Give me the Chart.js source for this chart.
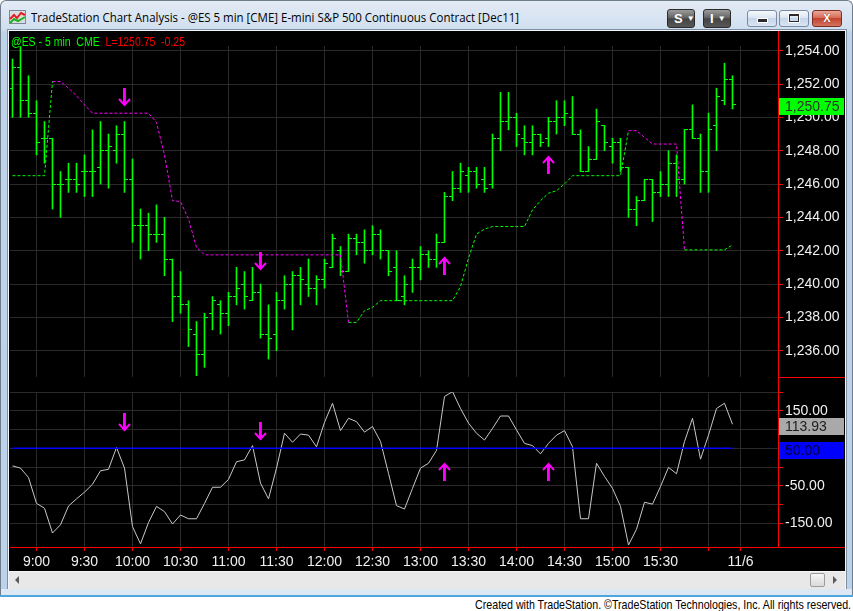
<!DOCTYPE html>
<html>
<head>
<meta charset="utf-8">
<title>TradeStation Chart Analysis - @ES 5 min</title>
<script src="https://cdn.jsdelivr.net/npm/chart.js@4.4.1/dist/chart.umd.min.js"></script>
<style>
  body { margin: 0; width: 853px; height: 611px; position: relative; overflow: hidden; background: #fff;
         font-family: "Liberation Sans", Arial, sans-serif; }
  .abs { position: absolute; }
  #win { left: 0; top: 0; width: 853px; height: 597px; box-sizing: border-box;
         border: 1px solid #6f7c8c; border-bottom: 0; border-radius: 6px 6px 0 0;
         background: linear-gradient(#e3ebf5, #d0dfef 28px, #bfd4eb 31px, #bcd2ea); }
  #inner { left: 7px; top: 29px; width: 840px; height: 562px; box-sizing: border-box; border: 1px solid #7f8ea1; background: #f2f6fb; }
  #bottomFrame { left: 1px; top: 589px; width: 851px; height: 6px; background: #dde8f4; }
  #frameEdge { left: 0; top: 595px; width: 853px; height: 2px; background: #4fa6de; }
  #plotBg { left: 9px; top: 31px; width: 836px; height: 540px; background: #000; }
  #title { left: 31px; top: 10px; font: 12px "Open Sans", "Noto Sans", sans-serif; line-height: 16px; color: #000; white-space: nowrap; }
  .tbtn { top: 9px; width: 28px; height: 19px; box-sizing: border-box; border: 1px solid #2b2b2b; border-radius: 3px;
          background: linear-gradient(#9c9c9c, #626262 46%, #444 52%, #585858); color: #fff;
          font: bold 13px "Liberation Sans", Arial, sans-serif; line-height: 17px; padding-left: 6px; }
  .tbtn span { font-size: 8px; margin-left: 4px; vertical-align: 2px; }
  .wbtn { top: 10px; height: 17px; width: 30px; box-sizing: border-box; border: 1px solid #7a8ca3; border-radius: 3px;
          background: linear-gradient(#f6f9fc, #dbe6f2 45%, #c6d6ea 50%, #d9e5f3); }
  #closeBtn { border-color: #7c2e24; background: linear-gradient(#eaa797, #d66d58 45%, #c1442f 50%, #d3735f);
              color: #fff; font: bold 11px "Liberation Sans", Arial, sans-serif; text-align: center; line-height: 15px;
              text-shadow: 0 0 1px #5a1a10; }
  canvas { position: absolute; }
  #legend { left: 11px; top: 35px; font: 13px "Liberation Sans", Arial, sans-serif; line-height: 13px; white-space: pre; }
  .red { background: #ff0000; }
  #scroll { left: 9px; top: 571px; width: 836px; height: 18px; box-sizing: border-box; background: #e8e8e8; border-top: 1px solid #f6f6f6; }
  #thumb { left: 810px; top: 573px; width: 15px; height: 14px; box-sizing: border-box; border: 1px solid #9c9c9c; border-radius: 2px;
           background: linear-gradient(#f7f7f7, #dadada); }
  #foot { right: 2px; top: 598px; font: 13px "Liberation Sans", Arial, sans-serif; line-height: 13px; white-space: nowrap; color: #000; }
</style>
</head>
<body>
<div id="win" class="abs"></div>
<div id="inner" class="abs"></div>
<div id="bottomFrame" class="abs"></div>
<div id="frameEdge" class="abs"></div>
<svg class="abs" style="left:9px;top:10px" width="17" height="14">
  <rect x="0.5" y="0.5" width="16" height="13" fill="#d8dde4" stroke="#7d8896"/>
  <polyline points="1,9 5,5 8,8 12,3 16,5" stroke="#e02020" stroke-width="2" fill="none"/>
  <polyline points="1,13 5,9 9,11 16,7" stroke="#20b020" stroke-width="2" fill="none"/>
</svg>
<div id="title" class="abs">TradeStation Chart Analysis - @ES 5 min [CME] E-mini S&amp;P 500 Continuous Contract [Dec11]</div>
<div class="abs tbtn" style="left:667px">S<span>&#9660;</span></div>
<div class="abs tbtn" style="left:703px">I<span>&#9660;</span></div>
<div class="abs wbtn" style="left:747px"><div class="abs" style="left:10px;top:8px;width:9px;height:3px;background:#2b2b2b;box-shadow:0 0 0 1px #fff"></div></div>
<div class="abs wbtn" style="left:779px"><div class="abs" style="left:9px;top:3px;width:10px;height:8px;box-sizing:border-box;border:1px solid #2b2b2b;border-top-width:2px;box-shadow:0 0 0 1px #fff"></div></div>
<div id="closeBtn" class="abs wbtn" style="left:812px">X</div>

<div id="plotBg" class="abs"></div>
<canvas id="priceChart" width="836" height="346" style="left:9px;top:31px"></canvas>
<canvas id="cciChart" width="836" height="194" style="left:9px;top:377px"></canvas>
<div id="legend" class="abs"><span style="color:#00ff00">@ES - 5 min  CME</span>  <span id="lastTxt" style="color:#ff0000"></span></div>
<div class="abs red" style="left:778px;top:31px;width:1px;height:517px"></div>
<div class="abs red" style="left:778px;top:377px;width:67px;height:1px"></div>
<div class="abs red" style="left:778px;top:547px;width:67px;height:1px"></div>

<div id="scroll" class="abs"></div>
<div class="abs" style="left:15px;top:576px;width:0;height:0;border-top:4px solid transparent;border-bottom:4px solid transparent;border-right:4px solid #5a5a5a"></div>
<div id="thumb" class="abs"></div>
<div class="abs" style="left:833px;top:576px;width:0;height:0;border-top:4px solid transparent;border-bottom:4px solid transparent;border-left:4px solid #5a5a5a"></div>
<div id="foot" class="abs">Created with TradeStation. &copy;TradeStation Technologies, Inc. All rights reserved.</div>

<script>
// 5 minute bars, index 0 = 8:45 ... index 90 = 16:15
const barOpen = [
  1251.75, 1253.0, 1251.0, 1250.25, 1248.75, 1248.75, 1246.0, 1246.25, 1246.25, 1246.75,
  1246.75, 1247.0, 1248.0, 1248.0, 1249.0, 1246.25, 1243.5, 1243.5, 1243.0, 1243.0,
  1241.5, 1239.25, 1238.75, 1237.0, 1235.75, 1238.25, 1238.75, 1238.25, 1239.25, 1240.0,
  1239.0, 1239.5, 1237.0, 1237.0, 1239.0, 1240.0, 1240.5, 1240.0, 1239.75, 1240.25,
  1241.0, 1242.0, 1240.75, 1242.75, 1242.5, 1242.0, 1243.0, 1242.0, 1241.0, 1239.25,
  1241.0, 1241.0, 1241.75, 1241.5, 1242.5, 1245.25, 1245.75, 1246.5, 1246.75, 1246.25,
  1246.0, 1248.75, 1249.75, 1250.0, 1248.75, 1248.5, 1249.0, 1248.75, 1249.75, 1250.0,
  1250.0, 1249.0, 1246.75, 1247.5, 1249.5, 1248.25, 1248.5, 1247.0, 1244.5, 1245.0,
  1246.25, 1245.5, 1246.0, 1247.25, 1246.25, 1249.25, 1248.75, 1246.75, 1249.5, 1251.0,
  1252.25
];
const barHigh = [
  1253.5, 1254.25, 1252.5, 1251.0, 1249.75, 1248.75, 1246.75, 1247.25, 1247.25, 1247.75,
  1249.25, 1249.75, 1249.0, 1249.5, 1249.75, 1247.5, 1244.5, 1244.25, 1244.75, 1244.0,
  1241.5, 1240.75, 1239.0, 1237.75, 1238.25, 1239.25, 1239.0, 1239.5, 1241.0, 1240.75,
  1241.0, 1240.0, 1238.75, 1239.5, 1240.5, 1240.75, 1241.0, 1241.5, 1240.5, 1241.5,
  1243.0, 1242.25, 1243.0, 1243.0, 1243.25, 1243.5, 1243.25, 1242.0, 1242.0, 1240.5,
  1241.5, 1242.25, 1242.0, 1243.0, 1245.5, 1246.75, 1247.25, 1247.0, 1247.0, 1247.0,
  1249.0, 1251.5, 1251.5, 1250.25, 1249.5, 1249.5, 1249.0, 1250.0, 1251.0, 1251.0,
  1251.25, 1249.25, 1248.25, 1250.5, 1249.5, 1248.75, 1248.75, 1247.0, 1245.25, 1246.25,
  1246.25, 1246.75, 1248.0, 1247.75, 1249.25, 1250.75, 1249.0, 1250.25, 1251.75, 1253.25,
  1252.5
];
const barLow = [
  1250.0, 1250.0, 1250.0, 1247.75, 1247.25, 1244.5, 1244.0, 1245.5, 1245.5, 1245.25,
  1245.25, 1246.0, 1245.75, 1247.25, 1245.5, 1242.5, 1241.5, 1242.0, 1242.5, 1240.5,
  1237.75, 1238.25, 1236.25, 1234.5, 1235.0, 1237.25, 1237.0, 1237.5, 1238.75, 1238.5,
  1239.0, 1236.75, 1235.5, 1236.0, 1238.5, 1237.25, 1238.75, 1239.25, 1238.75, 1239.75,
  1241.0, 1240.5, 1240.75, 1241.75, 1241.25, 1241.75, 1241.5, 1240.5, 1239.0, 1238.75,
  1239.5, 1240.25, 1241.0, 1241.0, 1242.5, 1245.0, 1245.5, 1245.5, 1245.75, 1245.5,
  1245.75, 1248.0, 1249.25, 1248.25, 1247.75, 1247.75, 1248.25, 1248.25, 1249.0, 1249.5,
  1249.0, 1246.75, 1246.75, 1247.5, 1248.0, 1247.25, 1246.75, 1244.0, 1243.5, 1245.0,
  1243.75, 1245.25, 1245.25, 1245.25, 1246.0, 1248.75, 1245.5, 1245.5, 1248.0, 1250.75,
  1250.5
];
const barClose = [
  1253.0, 1251.0, 1250.25, 1248.5, 1248.75, 1246.0, 1246.0, 1246.25, 1246.0, 1246.75,
  1246.75, 1248.0, 1248.25, 1249.0, 1246.25, 1243.5, 1243.5, 1243.0, 1243.0, 1241.5,
  1239.25, 1238.75, 1237.25, 1235.75, 1238.0, 1239.0, 1238.25, 1239.25, 1239.75, 1239.25,
  1239.5, 1237.0, 1236.75, 1239.0, 1240.0, 1240.5, 1240.25, 1239.75, 1240.25, 1241.25,
  1242.75, 1240.75, 1242.75, 1242.5, 1242.0, 1243.0, 1242.0, 1240.75, 1239.0, 1240.0,
  1241.0, 1241.75, 1241.5, 1242.5, 1245.25, 1245.75, 1246.75, 1246.75, 1246.0, 1245.75,
  1248.75, 1249.75, 1250.0, 1249.0, 1248.5, 1249.0, 1248.5, 1249.75, 1250.0, 1250.25,
  1249.0, 1246.75, 1247.5, 1249.75, 1248.5, 1248.5, 1247.0, 1244.5, 1245.0, 1246.25,
  1245.5, 1246.0, 1247.25, 1246.25, 1249.25, 1248.75, 1246.75, 1249.25, 1251.25, 1252.25,
  1250.75
];

// trailing stop, magenta while short, green while long
const stopLevel = [
  1246.5, 1246.5, 1246.5, 1246.5, 1246.5, 1252.15, 1252.15, 1251.75, 1251.3, 1250.75,
  1250.25, 1250.25, 1250.25, 1250.25, 1250.25, 1250.25, 1250.25, 1250.25, 1249.7, 1247.75,
  1245.0, 1244.95, 1243.9, 1242.2, 1241.75, 1241.75, 1241.75, 1241.75, 1241.75, 1241.75,
  1241.75, 1241.75, 1241.75, 1241.75, 1241.75, 1241.75, 1241.75, 1241.75, 1241.75, 1241.75,
  1241.75, 1241.75, 1237.7, 1237.7, 1238.4, 1238.6, 1239.0, 1239.0, 1239.0, 1239.0,
  1239.0, 1239.0, 1239.0, 1239.0, 1239.0, 1239.0, 1239.85, 1241.55, 1243.0, 1243.3,
  1243.45, 1243.45, 1243.45, 1243.45, 1243.45, 1244.45, 1245.0, 1245.45, 1245.6, 1246.0,
  1246.5, 1246.5, 1246.5, 1246.5, 1246.5, 1246.5, 1246.5, 1249.2, 1249.2, 1248.8,
  1248.4, 1248.4, 1248.4, 1248.4, 1242.05, 1242.05, 1242.05, 1242.05, 1242.05, 1242.05,
  1242.35
];
const stopShortRanges = [[5, 41], [77, 83]];

// oscillator
const cciValue = [
  3, -3, -28, -97, -110, -176, -154, -104, -85, -67,
  -46, -10, -6, 52, -3, -159, -205, -148, -105, -119,
  -152, -128, -138, -138, -97, -54, -54, -33, 14, 19,
  57, -43, -85, -3, 90, 66, 88, 85, 54, 119,
  170, 97, 130, 121, 93, 108, 68, -17, -103, -112,
  -57, -3, 10, 44, 188, 201, 156, 117, 90, 72,
  103, 136, 136, 99, 63, 57, 35, 63, 85, 97,
  54, -138, -138, 10, -25, -57, -105, -208, -166, -94,
  -99, -52, -1, -18, 68, 130, 21, 85, 156, 170,
  113.93
];
const cciLevel = 50;

// signal arrows
const signalBar = [14, 31, 54, 67];
const signalDir = ['down', 'down', 'up', 'up'];
const signalPrice = [1251.2, 1241.35, 1241.1, 1247.2];
const signalCci = [119, 95, -11.5, -11.5];

// axes
const timeTickBar = [3, 9, 15, 21, 27, 33, 39, 45, 51, 57, 63, 69, 75, 81, 87, 91];
const timeTickLabel = ['9:00', '9:30', '10:00', '10:30', '11:00', '11:30', '12:00', '12:30', '13:00',
                       '13:30', '14:00', '14:30', '15:00', '15:30', '', '11/6'];
const priceTicks = [1236, 1238, 1240, 1242, 1244, 1246, 1248, 1250, 1252, 1254];
const cciGrid = [-150, -100, -50, 0, 50, 100, 150, 200];
const cciLabeled = [150, -50, -150];

const GREEN = '#00ff00', MAGENTA = '#ff00ff', GRID = '#2a2a2a', AXIS = '#ff0000', LABEL = '#f0f0f0';
const FONT = { family: '"Liberation Sans", Arial, sans-serif', size: 14 };
const X_MIN = -0.3125, X_MAX = 95.6875;

const lastClose = barClose[barClose.length - 1];
const lastCci = cciValue[cciValue.length - 1];
const fmtPrice = v => v.toLocaleString('en-US', { minimumFractionDigits: 2, maximumFractionDigits: 2 });
const isShort = i => stopShortRanges.some(r => i >= r[0] && i <= r[1]);

document.getElementById('lastTxt').textContent = 'L=' + lastClose.toFixed(2) + '  -0.25';

function fitWidth(id, w, origin) {
  const el = document.getElementById(id);
  const r = el.getBoundingClientRect().width;
  el.style.transformOrigin = origin;
  el.style.transform = 'scaleX(' + (w / r) + ')';
}
fitWidth('title', 488, 'left center');
fitWidth('legend', 174, 'left center');
fitWidth('foot', 376, 'right center');

// small images used as point styles
function tickImg(side) {
  const c = document.createElement('canvas');
  c.width = 7; c.height = 1;
  const g = c.getContext('2d');
  g.fillStyle = GREEN;
  g.fillRect(side === 'open' ? 0 : 3, 0, 4, 1);
  return c;
}
function arrowImg(dir) {
  const c = document.createElement('canvas');
  c.width = 13; c.height = 19;
  const g = c.getContext('2d');
  if (dir === 'up') { g.translate(0, 19); g.scale(1, -1); }
  g.fillStyle = MAGENTA;
  g.fillRect(5, 0, 2, 17);
  g.fillStyle = '#a020f0';
  g.fillRect(7, 0, 1, 15);
  g.strokeStyle = MAGENTA;
  g.lineWidth = 2;
  g.beginPath();
  g.moveTo(1, 11); g.lineTo(6.5, 17); g.lineTo(12, 11);
  g.stroke();
  return c;
}
const openTick = tickImg('open'), closeTick = tickImg('close');
const arrows = { up: arrowImg('up'), down: arrowImg('down') };

const crisp = { id: 'crisp', beforeDatasetsDraw(chart) { chart.ctx.imageSmoothingEnabled = false; } };

const valueBoxes = {
  id: 'valueBoxes',
  afterDraw(chart, args, opts) {
    const { ctx, chartArea } = chart;
    const sy = chart.scales.y;
    ctx.save();
    ctx.font = '14px "Liberation Sans", Arial, sans-serif';
    ctx.textBaseline = 'middle';
    ctx.textAlign = 'left';
    opts.items.forEach(b => {
      const top = Math.round(sy.getPixelForValue(b.value) - 6.5);
      ctx.fillStyle = b.bg;
      ctx.fillRect(chartArea.right + 1, top, 65, 17);
      ctx.fillStyle = b.fg;
      ctx.fillText(b.text, chartArea.right + 7, top + 9);
    });
    ctx.restore();
  }
};

function xScale(showLabels) {
  return {
    type: 'linear', min: X_MIN, max: X_MAX, offset: false,
    afterBuildTicks: s => { s.ticks = timeTickBar.map(v => ({ value: v })); },
    afterFit: s => { s.height = showLabels ? 24 : 0; s.paddingLeft = 0; s.paddingRight = 0; },
    grid: { color: GRID, offset: false, drawTicks: showLabels, tickLength: 4, tickColor: AXIS },
    border: { display: showLabels, color: AXIS },
    ticks: { display: showLabels, color: LABEL, font: FONT, padding: 3, maxRotation: 0, autoSkip: false,
             callback: v => timeTickLabel[timeTickBar.indexOf(v)] }
  };
}
function yScale(min, max, ticks, label) {
  return {
    position: 'right', min: min, max: max,
    afterBuildTicks: s => { s.ticks = ticks.map(v => ({ value: v })); },
    afterFit: s => { s.width = 67; s.paddingTop = 0; s.paddingBottom = 0; },
    grid: { color: GRID, tickColor: AXIS, tickLength: 5 },
    border: { color: AXIS },
    ticks: { color: LABEL, font: FONT, padding: 2, callback: label }
  };
}
const common = {
  responsive: false, animation: false, devicePixelRatio: 1, events: [],
  layout: { autoPadding: false, padding: { left: 1, top: 15, right: 0, bottom: 0 } }
};

new Chart(document.getElementById('priceChart'), {
  type: 'scatter',
  data: {
    datasets: [
      { type: 'scatter', data: signalBar.map((b, k) => ({ x: b, y: signalPrice[k] })),
        pointStyle: c => arrows[signalDir[c.dataIndex]], pointRadius: 5 },
      { type: 'line', data: stopLevel.map((v, i) => ({ x: i, y: v })), borderColor: GREEN, borderWidth: 1,
        borderDash: [3, 2], pointRadius: 0, tension: 0,
        segment: { borderColor: c => isShort(c.p0DataIndex) ? MAGENTA : GREEN } },
      { type: 'scatter', data: barOpen.map((v, i) => ({ x: i, y: v })), pointStyle: openTick, pointRadius: 2 },
      { type: 'scatter', data: barClose.map((v, i) => ({ x: i, y: v })), pointStyle: closeTick, pointRadius: 2 },
      { type: 'bar', data: barLow.map((v, i) => ({ x: i, y: [v, barHigh[i]] })), backgroundColor: GREEN,
        barThickness: 1, grouped: false }
    ]
  },
  options: Object.assign({}, common, {
    plugins: { legend: { display: false }, tooltip: { enabled: false },
               valueBoxes: { items: [{ value: lastClose, text: fmtPrice(lastClose), bg: GREEN, fg: '#303030' }] } },
    scales: { x: xScale(false), y: yScale(1234.422, 1254.282, priceTicks, fmtPrice) }
  }),
  plugins: [crisp, valueBoxes]
});

new Chart(document.getElementById('cciChart'), {
  type: 'scatter',
  data: {
    datasets: [
      { type: 'scatter', data: signalBar.map((b, k) => ({ x: b, y: signalCci[k] })),
        pointStyle: c => arrows[signalDir[c.dataIndex]], pointRadius: 5 },
      { type: 'line', data: [{ x: 0, y: cciLevel }, { x: cciValue.length - 1, y: cciLevel }],
        borderColor: '#0000ff', borderWidth: 1.5, pointRadius: 0 },
      { type: 'line', data: cciValue.map((v, i) => ({ x: i, y: v })), borderColor: '#c8c8c8',
        borderWidth: 1, pointRadius: 0, tension: 0 }
    ]
  },
  options: Object.assign({}, common, {
    plugins: { legend: { display: false }, tooltip: { enabled: false },
               valueBoxes: { items: [
                 { value: cciLevel, text: cciLevel.toFixed(2), bg: '#0000ff', fg: '#000040' },
                 { value: lastCci, text: lastCci.toFixed(2), bg: '#a9a9a9', fg: '#202020' }] } },
    scales: { x: xScale(true),
              y: yScale(-213.33, 200, cciGrid, v => cciLabeled.includes(v) ? v.toFixed(2) : '') }
  }),
  plugins: [crisp, valueBoxes]
});
</script>
</body>
</html>
